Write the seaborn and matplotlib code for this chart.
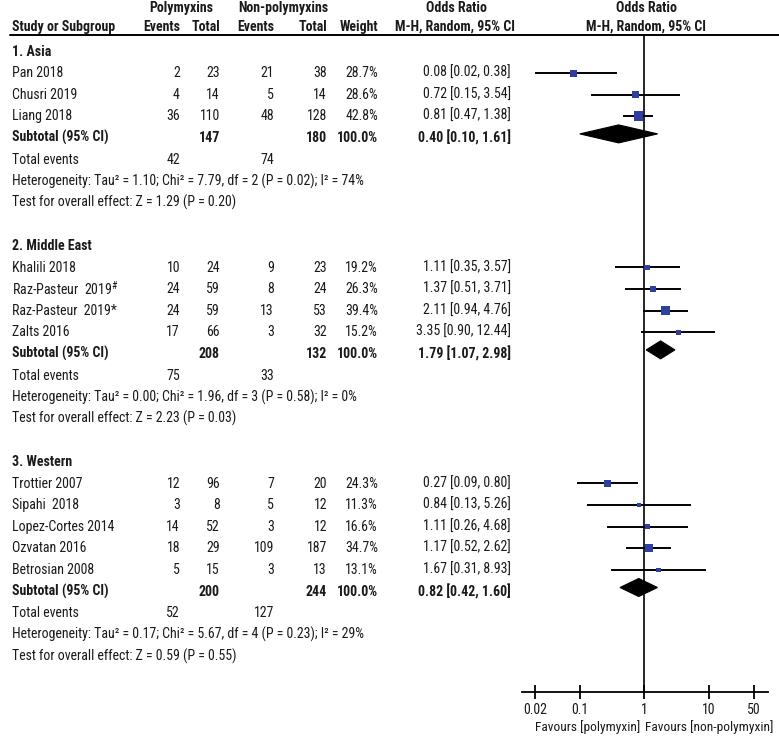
import numpy as np
import pandas as pd
import matplotlib
matplotlib.use("Agg")
import matplotlib.pyplot as plt
from matplotlib.patches import Polygon
from matplotlib.ticker import FixedLocator, FixedFormatter
import seaborn as sns

# ---------------- data ----------------
groups = ["1. Asia", "2. Middle East", "3. Western"]
study = ["Pan 2018", "Chusri 2019", "Liang 2018",
         "Khalili 2018", "Raz-Pasteur  2019$^{\\#}$", "Raz-Pasteur  2019*", "Zalts 2016",
         "Trottier 2007", "Sipahi  2018", "Lopez-Cortes 2014", "Ozvatan 2016", "Betrosian 2008"]
study_group = [0, 0, 0, 1, 1, 1, 1, 2, 2, 2, 2, 2]
ev_poly = [2, 4, 36, 10, 24, 24, 17, 12, 3, 14, 18, 5]
tot_poly = [23, 14, 110, 24, 59, 59, 66, 96, 8, 52, 29, 15]
ev_non = [21, 5, 48, 9, 8, 13, 3, 7, 5, 3, 109, 3]
tot_non = [38, 14, 128, 23, 24, 53, 32, 20, 12, 12, 187, 13]
weight = [28.7, 28.6, 42.8, 19.2, 26.3, 39.4, 15.2, 24.3, 11.3, 16.6, 34.7, 13.1]
or_est = [0.08, 0.72, 0.81, 1.11, 1.37, 2.11, 3.35, 0.27, 0.84, 1.11, 1.17, 1.67]
or_lo = [0.02, 0.15, 0.47, 0.35, 0.51, 0.94, 0.90, 0.09, 0.13, 0.26, 0.52, 0.31]
or_hi = [0.38, 3.54, 1.38, 3.57, 3.71, 4.76, 12.44, 0.80, 5.26, 4.68, 2.62, 8.93]

sub_tot_poly = [147, 208, 200]
sub_tot_non = [180, 132, 244]
sub_or = [0.40, 1.79, 0.82]
sub_lo = [0.10, 1.07, 0.42]
sub_hi = [1.61, 2.98, 1.60]
total_ev_poly = [42, 75, 52]
total_ev_non = [74, 33, 127]
heterogeneity = [
    "Heterogeneity: Tau² = 1.10; Chi² = 7.79, df = 2 (P = 0.02); I² = 74%",
    "Heterogeneity: Tau² = 0.00; Chi² = 1.96, df = 3 (P = 0.58); I² = 0%",
    "Heterogeneity: Tau² = 0.17; Chi² = 5.67, df = 4 (P = 0.23); I² = 29%",
]
overall = [
    "Test for overall effect: Z = 1.29 (P = 0.20)",
    "Test for overall effect: Z = 2.23 (P = 0.03)",
    "Test for overall effect: Z = 0.59 (P = 0.55)",
]
x_ticks = [0.02, 0.1, 1, 10, 50]
x_tick_labels = ["0.02", "0.1", "1", "10", "50"]
favours_left = "Favours [polymyxin]"
favours_right = "Favours [non-polymyxin]"

# ---------------- style ----------------
sns.set_theme(style="white")
plt.rcParams["font.family"] = ["Roboto Condensed", "DejaVu Sans"]
plt.rcParams["mathtext.default"] = "regular"
FS = 10.0
BLUE = "#2f3f9f"

W, H = 779, 738
fig = plt.figure(figsize=(W / 100, H / 100), dpi=100)
ax_t = fig.add_axes([0, 0, 1, 1])
ax_t.set_xlim(0, W)
ax_t.set_ylim(H, 0)
ax_t.axis("off")

# forest axes geometry (pixels)
AX_L, AX_R = 521.7, 768.0
AX_TOP, AX_BOT = 34.0, 692.0
X_ONE, DECADE = 644.3, 64.5
ax_f = fig.add_axes([AX_L / W, (H - AX_BOT) / H, (AX_R - AX_L) / W, (AX_BOT - AX_TOP) / H])
ax_f.set_xscale("log")
ax_f.set_xlim(10 ** ((AX_L - X_ONE) / DECADE), 10 ** ((AX_R - X_ONE) / DECADE))
ax_f.set_ylim(AX_BOT, AX_TOP)
ax_f.patch.set_alpha(0)
for s in ["left", "top", "right"]:
    ax_f.spines[s].set_visible(False)
ax_f.spines["bottom"].set_linewidth(1.3)
ax_f.spines["bottom"].set_color("black")
ax_f.set_yticks([])
ax_f.xaxis.set_major_locator(FixedLocator(x_ticks))
ax_f.xaxis.set_major_formatter(FixedFormatter(x_tick_labels))
ax_f.xaxis.set_minor_locator(FixedLocator([]))
ax_f.tick_params(axis="x", direction="inout", length=10, width=1.3, color="black",
                 labelsize=FS, pad=3, bottom=True, labelcolor="#1a1a1a")
ax_f.axvline(1, color="black", lw=1.2, zorder=1)

# column positions (pixels)
X_NAME = 12
X_EVP, X_TOTP, X_EVN, X_TOTN, X_W, X_OR = 180, 220, 274, 327, 378, 511

def txt(x, y, s, ha="left", bold=False, size=FS):
    ax_t.text(x, y, s, ha=ha, va="center", fontsize=size,
              fontweight="bold" if bold else "normal", color="#1a1a1a")

# header
txt(181, 8, "Polymyxins", ha="center", bold=True)
txt(283, 8, "Non-polymyxins", ha="center", bold=True)
txt(456, 8, "Odds Ratio", ha="center", bold=True)
txt(646, 8, "Odds Ratio", ha="center", bold=True)
txt(X_NAME, 27, "Study or Subgroup", bold=True)
txt(X_EVP, 27, "Events", ha="right", bold=True)
txt(X_TOTP, 27, "Total", ha="right", bold=True)
txt(X_EVN, 27, "Events", ha="right", bold=True)
txt(X_TOTN, 27, "Total", ha="right", bold=True)
txt(X_W, 27, "Weight", ha="right", bold=True)
txt(455, 27, "M-H, Random, 95% CI", ha="center", bold=True)
txt(646, 27, "M-H, Random, 95% CI", ha="center", bold=True)
ax_t.plot([10, W], [34.5, 34.5], color="black", lw=1.4)

def row_y(i):
    return 51.5 + 21.6 * i

rows_study_y = []
i = 0
for g, gname in enumerate(groups):
    txt(X_NAME, row_y(i), gname, bold=True)
    i += 1
    for k in [k for k in range(len(study)) if study_group[k] == g]:
        y = row_y(i)
        rows_study_y.append(y)
        txt(X_NAME, y, study[k])
        txt(X_EVP, y, str(ev_poly[k]), ha="right")
        txt(X_TOTP, y, str(tot_poly[k]), ha="right")
        txt(X_EVN, y, str(ev_non[k]), ha="right")
        txt(X_TOTN, y, str(tot_non[k]), ha="right")
        txt(X_W, y, f"{weight[k]:.1f}%", ha="right")
        txt(X_OR, y, f"{or_est[k]:.2f} [{or_lo[k]:.2f}, {or_hi[k]:.2f}]", ha="right")
        i += 1
    y = row_y(i)
    txt(X_NAME, y, "Subtotal (95% CI)", bold=True)
    txt(X_TOTP, y, str(sub_tot_poly[g]), ha="right", bold=True)
    txt(X_TOTN, y, str(sub_tot_non[g]), ha="right", bold=True)
    txt(X_W, y, "100.0%", ha="right", bold=True)
    txt(X_OR, y, f"{sub_or[g]:.2f} [{sub_lo[g]:.2f}, {sub_hi[g]:.2f}]", ha="right", bold=True)
    dy = y - 4
    hh = 9.0
    ax_f.add_patch(Polygon([(sub_lo[g], dy), (sub_or[g], dy - hh), (sub_hi[g], dy), (sub_or[g], dy + hh)],
                           closed=True, facecolor="black", edgecolor="black", lw=0.8, zorder=3))
    i += 1
    y = row_y(i)
    txt(X_NAME, y, "Total events")
    txt(X_EVP, y, str(total_ev_poly[g]), ha="right")
    txt(X_EVN, y, str(total_ev_non[g]), ha="right")
    i += 1
    txt(X_NAME, row_y(i), heterogeneity[g])
    i += 1
    txt(X_NAME, row_y(i), overall[g])
    i += 2

df = pd.DataFrame({"study": study, "or": or_est, "lo": or_lo, "hi": or_hi,
                   "weight": weight, "y": rows_study_y})
side_px = 2.0 + 0.18 * df["weight"]
df["s"] = (side_px * 0.72) ** 2

ax_f.hlines(df["y"], df["lo"], df["hi"], color="black", lw=1.4, zorder=2)
sns.scatterplot(data=df, x="or", y="y", marker="s", color=BLUE, s=df["s"].values,
                edgecolor=BLUE, linewidth=0, ax=ax_f, zorder=4, legend=False)
ax_f.set_xlabel("")
ax_f.set_ylabel("")
ax_f.set_ylim(AX_BOT, AX_TOP)

txt(640, 727, favours_left, ha="right", size=9.6)
txt(645, 727, favours_right, ha="left", size=9.6)

fig.savefig("out.png", dpi=100)
